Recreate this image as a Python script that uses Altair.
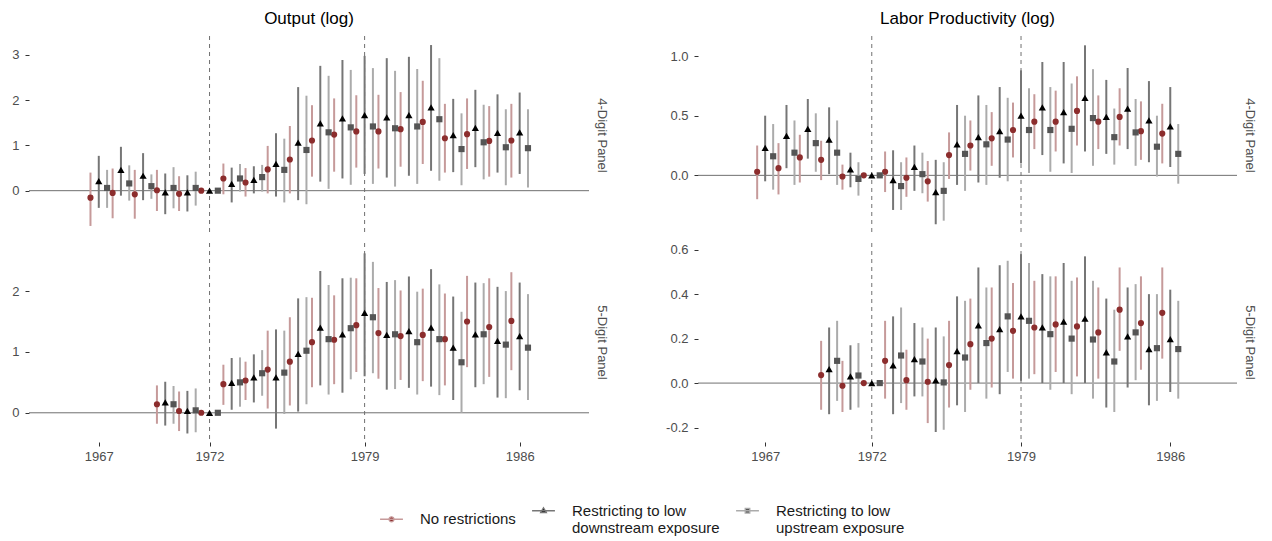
import altair as alt
import pandas as pd

FONT = "Liberation Sans"

# ---------------- series definitions ----------------
SERIES = ["No restrictions",
          "Restricting to low|downstream exposure",
          "Restricting to low|upstream exposure"]
POINT_COLORS = ["#8c2d2d", "#000000", "#555555"]
BAR_COLORS = ["#c69a9a", "#767676", "#ababab"]
SHAPES = ["circle", "triangle-up", "square"]
SIZES = [38, 52, 38]
DODGE = [-0.375, 0.0, 0.375]
LEGEND_PATHS = [
    "M-3,0H3M-0.65,0A0.65,0.65,0,1,0,0.65,0A0.65,0.65,0,1,0,-0.65,0Z",
    "M-3,0H3M0,-0.8L0.75,0.5L-0.75,0.5Z",
    "M-3,0H3M-0.6,-0.6H0.6V0.6H-0.6Z",
]

EVENT_YEARS = [1972, 1979]
YEAR_TICKS = [1967, 1972, 1979, 1986]
X_DOMAIN = [1963.85, 1989.13]

years_4d = [1967, 1968, 1969, 1970, 1971, 1972, 1973, 1974, 1975, 1976,
            1977, 1978, 1979, 1980, 1981, 1982, 1983, 1984, 1985, 1986]
years_5d = [1970, 1971, 1972, 1973, 1974, 1975, 1976,
            1977, 1978, 1979, 1980, 1981, 1982, 1983, 1984, 1985, 1986]

# ---------------- Output (log), 4-digit panel ----------------
out4_none = [-0.155, -0.05, -0.08, 0.01, -0.07, 0, 0.27, 0.18, 0.47, 0.69, 1.11, 1.24, 1.31, 1.31, 1.36, 1.52, 1.16, 1.25, 1.10, 1.11]
out4_none_lo = [-0.78, -0.61, -0.62, -0.45, -0.45, 0, -0.08, -0.13, -0.06, -0.06, 0.31, 0.42, 0.51, 0.49, 0.53, 0.59, 0.40, 0.48, 0.31, 0.29]
out4_none_hi = [0.40, 0.49, 0.46, 0.46, 0.32, 0, 0.60, 0.50, 0.99, 1.43, 1.89, 2.04, 2.11, 2.12, 2.18, 2.43, 1.92, 2.04, 1.87, 1.92]
out4_down = [0.21, 0.46, 0.33, -0.04, -0.04, 0, 0.15, 0.24, 0.59, 1.06, 1.49, 1.60, 1.67, 1.62, 1.67, 1.84, 1.23, 1.39, 1.28, 1.29]
out4_down_lo = [-0.38, -0.11, -0.21, -0.52, -0.46, 0, -0.26, -0.06, -0.13, -0.21, 0.20, 0.27, 0.37, 0.29, 0.33, 0.44, 0.41, 0.52, 0.40, 0.37]
out4_down_hi = [0.77, 0.97, 0.83, 0.38, 0.34, 0, 0.51, 0.54, 1.27, 2.29, 2.76, 2.89, 2.98, 2.93, 2.96, 3.22, 2.03, 2.23, 2.13, 2.17]
out4_up = [0.06, 0.16, 0.10, 0.06, 0.06, 0, 0.27, 0.30, 0.46, 0.90, 1.29, 1.40, 1.42, 1.38, 1.42, 1.58, 0.92, 1.07, 0.96, 0.94]
out4_up_lo = [-0.38, -0.22, -0.18, -0.39, -0.33, 0, -0.02, -0.02, -0.26, -0.30, 0.04, 0.13, 0.15, 0.09, 0.15, 0.22, 0.12, 0.25, 0.12, 0.07]
out4_up_hi = [0.46, 0.56, 0.36, 0.52, 0.42, 0, 0.59, 0.57, 1.15, 2.10, 2.54, 2.67, 2.71, 2.65, 2.69, 2.93, 1.71, 1.90, 1.80, 1.80]

# ---------------- Output (log), 5-digit panel ----------------
out5_none = [0.14, 0.03, 0, 0.47, 0.53, 0.71, 0.84, 1.16, 1.20, 1.44, 1.31, 1.26, 1.28, 1.21, 1.50, 1.41, 1.51]
out5_none_lo = [-0.18, -0.30, 0, 0.13, 0.21, 0.07, 0.12, 0.42, 0.47, 0.67, 0.56, 0.54, 0.52, 0.45, 0.75, 0.59, 0.70]
out5_none_hi = [0.45, 0.35, 0, 0.79, 0.84, 1.35, 1.57, 1.89, 1.93, 2.21, 2.05, 2.01, 2.04, 1.96, 2.25, 2.21, 2.31]
out5_down = [0.17, 0.03, 0, 0.49, 0.58, 0.58, 0.97, 1.40, 1.29, 1.64, 1.28, 1.34, 1.40, 1.07, 1.29, 1.18, 1.26]
out5_down_lo = [-0.21, -0.34, 0, 0.05, 0.17, -0.26, 0.02, 0.45, 0.33, 0.60, 0.38, 0.41, 0.43, 0.21, 0.42, 0.25, 0.37]
out5_down_hi = [0.51, 0.36, 0, 0.90, 0.96, 1.37, 1.88, 2.33, 2.21, 2.62, 2.15, 2.24, 2.36, 1.91, 2.14, 2.07, 2.14]
out5_up = [0.14, 0.04, 0, 0.50, 0.65, 0.66, 1.02, 1.21, 1.39, 1.57, 1.29, 1.16, 1.21, 0.83, 1.29, 1.12, 1.07]
out5_up_lo = [-0.18, -0.32, 0, 0.10, 0.28, -0.02, 0.14, 0.30, 0.55, 0.65, 0.39, 0.30, 0.29, 0.00, 0.47, 0.24, 0.21]
out5_up_hi = [0.44, 0.40, 0, 0.91, 1.03, 1.35, 1.90, 2.10, 2.22, 2.48, 2.18, 1.99, 2.11, 1.66, 2.13, 2.00, 1.95]

# ---------------- Labor productivity (log), 4-digit panel ----------------
lp4_none = [0.03, 0.06, 0.15, 0.13, -0.01, 0, 0.03, -0.02, -0.05, 0.17, 0.25, 0.31, 0.38, 0.45, 0.45, 0.54, 0.45, 0.49, 0.37, 0.35]
lp4_none_lo = [-0.20, -0.16, -0.06, -0.04, -0.12, 0, -0.14, -0.18, -0.22, -0.03, 0.04, 0.08, 0.15, 0.22, 0.20, 0.25, 0.22, 0.25, 0.13, 0.10]
lp4_none_hi = [0.25, 0.27, 0.34, 0.29, 0.09, 0, 0.20, 0.15, 0.12, 0.36, 0.46, 0.53, 0.61, 0.68, 0.71, 0.83, 0.67, 0.73, 0.62, 0.60]
lp4_down = [0.23, 0.33, 0.39, 0.30, 0.05, 0, -0.04, 0.07, -0.14, 0.26, 0.32, 0.37, 0.50, 0.57, 0.53, 0.65, 0.49, 0.56, 0.46, 0.41]
lp4_down_lo = [-0.05, 0.06, 0.14, 0.01, -0.10, 0, -0.29, -0.13, -0.41, -0.08, -0.06, -0.02, 0.10, 0.17, 0.10, 0.20, 0.18, 0.22, 0.11, 0.07]
lp4_down_hi = [0.50, 0.59, 0.64, 0.57, 0.19, 0, 0.21, 0.25, 0.13, 0.59, 0.67, 0.74, 0.88, 0.95, 0.95, 1.09, 0.80, 0.90, 0.79, 0.74]
lp4_up = [0.16, 0.19, 0.27, 0.19, -0.03, 0, -0.09, 0.01, -0.13, 0.18, 0.26, 0.30, 0.38, 0.38, 0.39, 0.48, 0.32, 0.36, 0.24, 0.18]
lp4_up_lo = [-0.12, -0.08, 0.03, -0.08, -0.17, 0, -0.29, -0.15, -0.38, -0.13, -0.08, -0.05, 0.02, 0.03, 0.02, 0.08, 0.09, 0.08, -0.01, -0.07]
lp4_up_hi = [0.43, 0.46, 0.52, 0.46, 0.11, 0, 0.11, 0.19, 0.11, 0.50, 0.59, 0.65, 0.73, 0.74, 0.77, 0.89, 0.56, 0.64, 0.50, 0.43]

# ---------------- Labor productivity (log), 5-digit panel ----------------
lp5_none = [0.036, -0.012, 0, 0.10, 0.013, 0.006, 0.081, 0.175, 0.20, 0.235, 0.25, 0.264, 0.255, 0.228, 0.33, 0.27, 0.316]
lp5_none_lo = [-0.12, -0.13, 0, -0.07, -0.12, -0.18, -0.11, -0.03, -0.02, 0.02, 0.04, 0.05, 0.03, 0.02, 0.145, 0.06, 0.11]
lp5_none_hi = [0.19, 0.10, 0, 0.28, 0.15, 0.20, 0.28, 0.38, 0.43, 0.45, 0.46, 0.48, 0.475, 0.43, 0.52, 0.48, 0.52]
lp5_down = [0.063, 0.03, 0, 0.08, 0.108, 0.012, 0.144, 0.26, 0.243, 0.30, 0.25, 0.276, 0.29, 0.138, 0.21, 0.153, 0.198]
lp5_down_lo = [-0.14, -0.12, 0, -0.14, -0.06, -0.22, -0.10, 0.00, -0.05, 0.01, 0.00, 0.00, 0.00, -0.11, -0.02, -0.10, -0.04]
lp5_down_hi = [0.25, 0.17, 0, 0.30, 0.27, 0.25, 0.39, 0.52, 0.53, 0.58, 0.49, 0.54, 0.57, 0.38, 0.43, 0.40, 0.42]
lp5_up = [0.10, 0.034, 0, 0.124, 0.097, 0.003, 0.115, 0.18, 0.30, 0.28, 0.22, 0.20, 0.196, 0.097, 0.228, 0.157, 0.153]
lp5_up_lo = [-0.08, -0.11, 0, -0.09, -0.06, -0.21, -0.13, -0.07, 0.05, 0.02, -0.03, -0.05, -0.07, -0.13, 0.013, -0.08, -0.07]
lp5_up_hi = [0.28, 0.18, 0, 0.34, 0.25, 0.21, 0.37, 0.43, 0.55, 0.54, 0.48, 0.46, 0.46, 0.33, 0.445, 0.40, 0.37]


def build(years, triplets):
    rows = []
    for k, (est, lo, hi) in enumerate(triplets):
        for yr, e, l, h in zip(years, est, lo, hi):
            rows.append({"series": SERIES[k], "k": k, "year": yr,
                         "est": e, "lo": l, "hi": h})
    df = pd.DataFrame(rows)
    df["xpos"] = df["year"] + df["k"].map(lambda i: DODGE[i])
    return df


df_out4 = build(years_4d, [(out4_none, out4_none_lo, out4_none_hi),
                           (out4_down, out4_down_lo, out4_down_hi),
                           (out4_up, out4_up_lo, out4_up_hi)])
df_out5 = build(years_5d, [(out5_none, out5_none_lo, out5_none_hi),
                           (out5_down, out5_down_lo, out5_down_hi),
                           (out5_up, out5_up_lo, out5_up_hi)])
df_lp4 = build(years_4d, [(lp4_none, lp4_none_lo, lp4_none_hi),
                          (lp4_down, lp4_down_lo, lp4_down_hi),
                          (lp4_up, lp4_up_lo, lp4_up_hi)])
df_lp5 = build(years_5d, [(lp5_none, lp5_none_lo, lp5_none_hi),
                          (lp5_down, lp5_down_lo, lp5_down_hi),
                          (lp5_up, lp5_up_lo, lp5_up_hi)])

LABEL_EXPR = "replace(format(datum.value, '.1f'), '\u2212', '-')"

LEG = alt.Legend(
    title=None, orient="none", direction="horizontal",
    legendX=355, legendY=467,
    labelExpr="split(datum.label, '|')",
    labelFont=FONT, labelFontSize=15, labelColor="#1a1a1a",
    symbolSize=58, symbolStrokeWidth=1.3,
    labelOffset=21, columnPadding=13,
)


def panel(df, width, height, ydom, yvals, yfmt, row_label,
          title=None, show_x=False, with_legend=False):
    xaxis = (alt.Axis(values=YEAR_TICKS, format="d", labelPadding=4)
             if show_x else None)
    if yfmt == "int":
        yaxis = alt.Axis(values=yvals, format="d")
    else:
        yaxis = alt.Axis(values=yvals, labelExpr=LABEL_EXPR)

    def X(field):
        return alt.X(field, type="quantitative", title=None, axis=xaxis,
                     scale=alt.Scale(domain=X_DOMAIN, nice=False, zero=False))

    def Y(field):
        return alt.Y(field, type="quantitative", title=None, axis=yaxis,
                     scale=alt.Scale(domain=ydom, nice=False, zero=False))

    layers = []
    layers.append(alt.Chart(pd.DataFrame({"v": [0]}))
                  .mark_rule(color="#707070", strokeWidth=1)
                  .encode(y=Y("v")))
    layers.append(alt.Chart(pd.DataFrame({"yr": EVENT_YEARS}))
                  .mark_rule(color="#707070", strokeWidth=1, strokeDash=[4, 4])
                  .encode(x=X("yr")))
    for k in range(3):
        sub = df[df["k"] == k]
        layers.append(alt.Chart(sub)
                      .mark_rule(color=BAR_COLORS[k], strokeWidth=2)
                      .encode(x=X("xpos"), y=Y("lo"), y2="hi"))
    for k in range(3):
        sub = df[df["k"] == k]
        layers.append(alt.Chart(sub)
                      .mark_point(shape=SHAPES[k], filled=True,
                                  color=POINT_COLORS[k], opacity=1,
                                  size=SIZES[k])
                      .encode(x=X("xpos"), y=Y("est")))
    if with_legend:
        empty = pd.DataFrame({"series": pd.Series([], dtype=str),
                              "xpos": pd.Series([], dtype=float),
                              "est": pd.Series([], dtype=float)})
        layers.append(alt.Chart(empty)
                      .mark_point(filled=True, opacity=1, strokeWidth=1.3)
                      .encode(
                          x=X("xpos"), y=Y("est"),
                          shape=alt.Shape("series:N", legend=LEG,
                                          scale=alt.Scale(domain=SERIES, range=LEGEND_PATHS)),
                          fill=alt.Fill("series:N", legend=LEG,
                                        scale=alt.Scale(domain=SERIES, range=POINT_COLORS)),
                          stroke=alt.Stroke("series:N", legend=LEG,
                                            scale=alt.Scale(domain=SERIES, range=BAR_COLORS)),
                      ))
    layers.append(alt.Chart(pd.DataFrame({"t": [row_label]}))
                  .mark_text(angle=90, font=FONT, fontSize=13, color="#4d4d4d")
                  .encode(text="t:N", x=alt.value(width + 13),
                          y=alt.value(height / 2)))
    props = {"width": width, "height": height}
    if title:
        props["title"] = alt.TitleParams(title, font=FONT, fontSize=17,
                                         fontWeight="normal", color="#000000",
                                         anchor="middle", offset=8)
    return alt.layer(*layers).properties(**props)


WL, WR, H = 560, 539, 199

tl = panel(df_out4, WL, H, [-0.98, 3.42], [0, 1, 2, 3], "int", "4-Digit Panel",
           title="Output (log)", with_legend=True)
bl = panel(df_out5, WL, H, [-0.48, 2.79], [0, 1, 2], "int", "5-Digit Panel",
           show_x=True)
tr = panel(df_lp4, WR, H, [-0.50, 1.168], [0.0, 0.5, 1.0], "f", "4-Digit Panel",
           title="Labor Productivity (log)")
br = panel(df_lp5, WR, H, [-0.265, 0.63], [-0.2, 0.0, 0.2, 0.4, 0.6], "f",
           "5-Digit Panel", show_x=True)

chart = (
    alt.hconcat(alt.vconcat(tl, bl, spacing=6),
                alt.vconcat(tr, br, spacing=6), spacing=57)
    .properties(padding={"left": 11, "top": 9, "right": 5, "bottom": 5},
                background="white")
    .configure_view(stroke=None)
    .configure_axis(labelFont=FONT, labelFontSize=13, labelColor="#4d4d4d",
                    tickColor="#333333", tickSize=4, labelPadding=6,
                    domain=False, grid=False)
)

chart.save("out.html", embed_options={"renderer": "svg", "actions": False})
